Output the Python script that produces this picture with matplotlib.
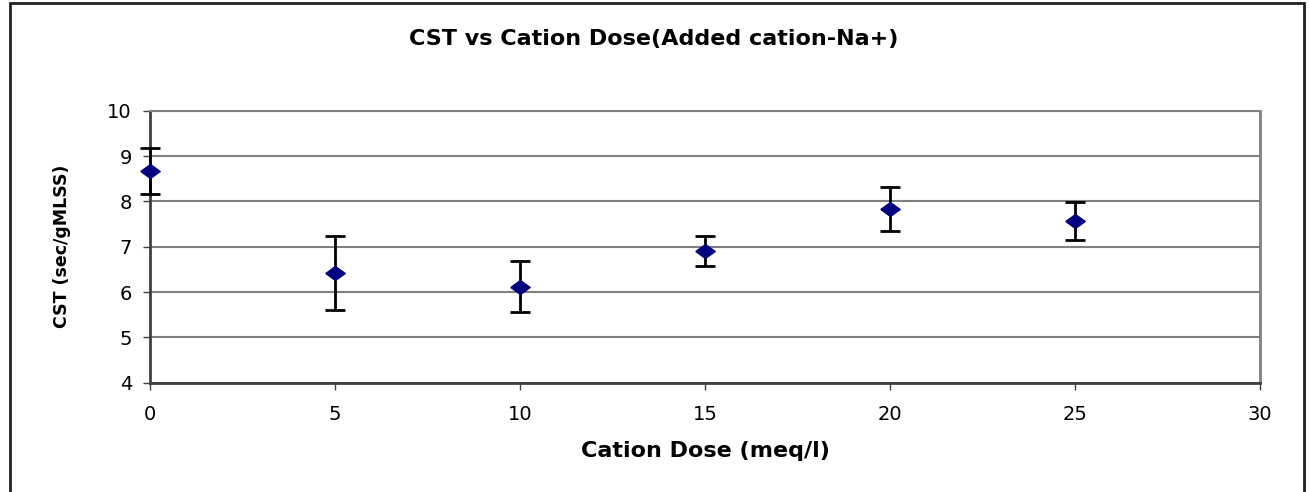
import numpy as np
import matplotlib.pyplot as plt
from matplotlib.patches import Rectangle

plt.rcParams['font.family'] = ['DejaVu Sans']

# cation dose (meq/l) and measured CST with error bar half-widths
dose = [0, 5, 10, 15, 20, 25]
cst = [8.67, 6.42, 6.12, 6.90, 7.83, 7.56]
cst_err = [0.50, 0.81, 0.57, 0.33, 0.49, 0.42]

x_ticks = [0, 5, 10, 15, 20, 25, 30]
y_ticks = [4, 5, 6, 7, 8, 9, 10]

fig = plt.figure(figsize=(13.09, 4.92), dpi=100)
W, H = 1309, 492
ax = fig.add_axes([150 / W, 1 - 382.7 / H, 1110 / W, (382.7 - 110.7) / H])

# a slightly flattened diamond
diamond = [(-1, 0), (0, 0.72), (1, 0), (0, -0.72), (-1, 0)]
eb = ax.errorbar(dose, cst, yerr=cst_err, fmt='none', ecolor='black',
                 elinewidth=2, capsize=7.5, capthick=2, zorder=3)
ax.plot(dose, cst, linestyle='none', marker=diamond, markersize=14,
        color='#000080', zorder=4, clip_on=False)
for art in eb.get_children():
    art.set_clip_on(False)

ax.set_xlim(0, 30)
ax.set_ylim(4, 10)
ax.set_xticks(x_ticks)
ax.set_yticks(y_ticks)
ax.tick_params(axis='y', labelsize=14, length=5, width=1, color='#404040', pad=8)
ax.tick_params(axis='x', labelsize=14, length=5, width=1, color='#404040', pad=11)
ax.yaxis.grid(True, color='#808080', linewidth=1.5)
ax.set_axisbelow(True)

for s in ['left', 'bottom']:
    ax.spines[s].set_color('#404040')
    ax.spines[s].set_linewidth(2)
ax.spines['right'].set_color('#808080')
ax.spines['right'].set_linewidth(2)
ax.spines['top'].set_color('#808080')
ax.spines['top'].set_linewidth(1.5)

ax.set_xlabel('Cation Dose (meq/l)', fontsize=16, fontweight='bold', labelpad=12)
ax.set_ylabel('CST (sec/gMLSS)', fontsize=12.5, fontweight='bold', labelpad=26)
fig.text(654 / W, 1 - 39 / H, 'CST vs Cation Dose(Added cation-Na+)',
         fontsize=16, fontweight='bold', ha='center', va='center')

# outer chart border
fig.patches.append(Rectangle((10 / W, -0.05), 1294 / W, 1.05 - 3 / H,
                             transform=fig.transFigure, fill=False,
                             edgecolor='#202020', linewidth=2))

fig.savefig('out.png', dpi=100)
